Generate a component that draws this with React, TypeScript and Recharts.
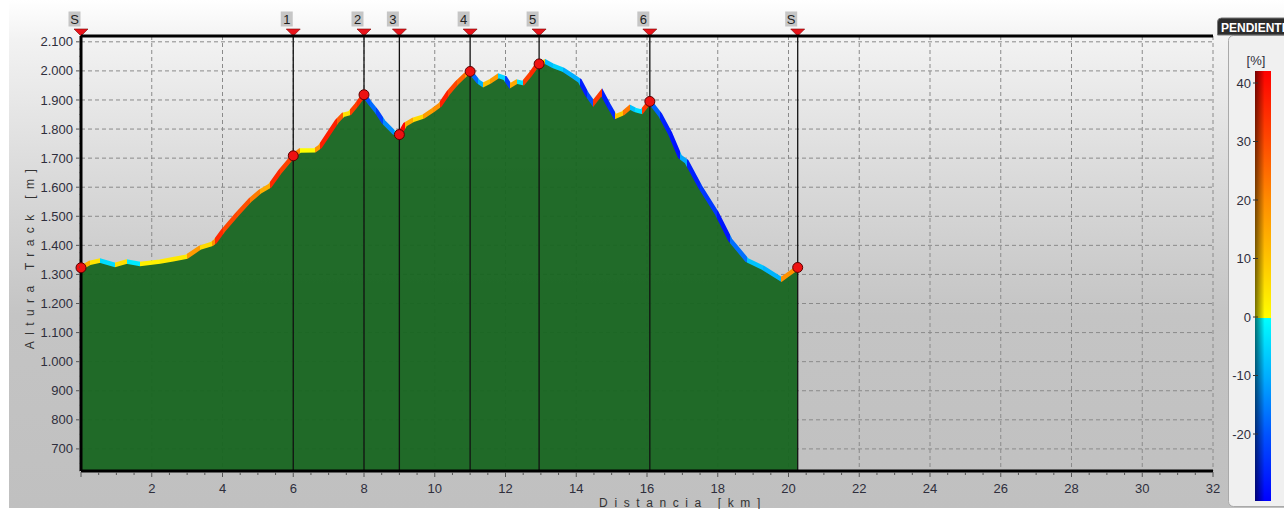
import React from 'react';
import {
  ComposedChart,
  Area,
  Line,
  XAxis,
  YAxis,
  CartesianGrid,
  ReferenceLine,
  ReferenceDot,
} from 'recharts';

// ---------- data ----------
const distanceKm = [
  0, 0.25, 0.54, 0.96, 1.29, 1.67, 2.23, 2.6, 2.99, 3.36, 3.7, 3.79, 4.01, 4.4, 4.78, 5.06, 5.34, 5.63,
  6.0, 6.19, 6.61, 6.76, 7.23, 7.41, 7.6, 7.79, 8.0, 8.17, 8.35, 8.55, 8.85, 9.0, 9.16, 9.39, 9.68,
  9.96, 10.15, 10.38, 10.62, 10.86, 11.0, 11.23, 11.37, 11.56, 11.8, 11.99, 12.13, 12.32, 12.5, 12.69,
  12.88, 12.95, 13.12, 13.35, 13.63, 13.92, 14.1, 14.3, 14.48, 14.72, 14.91, 15.1, 15.33, 15.52, 15.66,
  15.85, 16.08, 16.37, 16.65, 16.93, 17.12, 17.5, 17.97, 18.35, 18.82, 19.29, 19.8, 20.26,
];
const elevationM = [
  1323, 1340, 1348, 1333, 1344, 1336, 1344, 1352, 1361, 1392, 1405, 1413, 1450, 1505, 1556, 1585, 1605, 1654,
  1708, 1726, 1727, 1740, 1826, 1849, 1855, 1883, 1918, 1889, 1862, 1825, 1788, 1781, 1815, 1832, 1843,
  1866, 1883, 1924, 1958, 1986, 1998, 1963, 1952, 1963, 1983, 1975, 1949, 1963, 1958, 1986,
  2018, 2024, 2032, 2017, 2004, 1981, 1966, 1920, 1889, 1926, 1883, 1843, 1855, 1875, 1866,
  1860, 1895, 1849, 1786, 1705, 1688, 1602, 1511, 1419, 1350, 1322, 1283, 1324,
];

const markerLabels = ['S', '1', '2', '3', '4', '5', '6', 'S'];
const markerKm = [0, 6.0, 8.0, 9.0, 11.0, 12.95, 16.08, 20.26];
const markerEle = [1323, 1708, 1918, 1781, 1998, 2024, 1895, 1324];

const yTicksMajor = [700, 800, 900, 1000, 1100, 1200, 1300, 1400, 1500, 1600, 1700, 1800, 1900, 2000, 2100];
const xTicksMajor = [2, 4, 6, 8, 10, 12, 14, 16, 18, 20, 22, 24, 26, 28, 30, 32];
const legendTicks = [40, 30, 20, 10, 0, -10, -20];

const X_DOMAIN: [number, number] = [0, 32];
const Y_DOMAIN: [number, number] = [624, 2120];

const profile = distanceKm.map((km, i) => ({ km, ele: elevationM[i] }));

const xTicksAll: number[] = [];
for (let v = 0; v <= 32; v += 0.5) xTicksAll.push(v);
const yTicksAll: number[] = [];
for (let v = 625; v <= 2100; v += 25) yTicksAll.push(v);

// ---------- slope colours ----------
const upStops: [number, [number, number, number]][] = [
  [0, [255, 255, 0]],
  [4, [255, 216, 0]],
  [8, [255, 160, 0]],
  [12, [255, 96, 0]],
  [16, [255, 48, 0]],
  [22, [255, 0, 0]],
];
const downStops: [number, [number, number, number]][] = [
  [0, [0, 255, 255]],
  [4, [0, 216, 255]],
  [8, [0, 176, 255]],
  [12, [0, 144, 255]],
  [16, [0, 96, 255]],
  [20, [0, 48, 255]],
  [25, [0, 16, 255]],
];
function interp(stops: [number, [number, number, number]][], v: number) {
  if (v <= stops[0][0]) return stops[0][1];
  for (let i = 1; i < stops.length; i++) {
    if (v <= stops[i][0]) {
      const [a, ca] = stops[i - 1];
      const [b, cb] = stops[i];
      const t = (v - a) / (b - a);
      return ca.map((c, k) => Math.round(c + (cb[k] - c) * t)) as [number, number, number];
    }
  }
  return stops[stops.length - 1][1];
}
function slopeColor(s: number) {
  const c = s >= 0 ? interp(upStops, s) : interp(downStops, -s);
  return `rgb(${c[0]},${c[1]},${c[2]})`;
}
const kmMin = distanceKm[0];
const kmMax = distanceKm[distanceKm.length - 1];
const gradStops: { off: number; color: string }[] = [];
for (let i = 0; i < distanceKm.length - 1; i++) {
  const slope = ((elevationM[i + 1] - elevationM[i]) / ((distanceKm[i + 1] - distanceKm[i]) * 1000)) * 100;
  const col = slopeColor(slope);
  gradStops.push({ off: (distanceKm[i] - kmMin) / (kmMax - kmMin), color: col });
  gradStops.push({ off: (distanceKm[i + 1] - kmMin) / (kmMax - kmMin), color: col });
}

const FONT = '"Liberation Sans", Arial, sans-serif';
const TICK_COLOR = '#2e2e3c';

const fmtThousands = (v: number) => {
  const s = String(v);
  return s.length > 3 ? s.slice(0, s.length - 3) + '.' + s.slice(s.length - 3) : s;
};

const XTick = (props: any) => {
  const { x, y, payload } = props;
  const v = payload.value as number;
  const major = v % 2 === 0;
  return (
    <g>
      <line x1={x} x2={x} y1={y + 1} y2={y + (major ? 6 : 4)} stroke="#555" strokeWidth={1} />
      {major && v !== 0 ? (
        <text x={x} y={y + 22} textAnchor="middle" fill={TICK_COLOR} fontSize={13} fontFamily={FONT}>
          {v}
        </text>
      ) : null}
    </g>
  );
};

const YTick = (props: any) => {
  const { x, y, payload } = props;
  const v = payload.value as number;
  const major = v % 100 === 0;
  const ax = x + 8;
  return (
    <g>
      <line x1={ax - (major ? 5 : 2)} x2={ax - 1} y1={y} y2={y} stroke="#555" strokeWidth={1} />
      {major ? (
        <text x={ax - 8} y={y} dy="0.35em" textAnchor="end" fill={TICK_COLOR} fontSize={13} fontFamily={FONT}>
          {fmtThousands(v)}
        </text>
      ) : null}
    </g>
  );
};

const TopTag = ({ viewBox, text }: any) => {
  if (!viewBox) return null;
  const cx = viewBox.x;
  const top = viewBox.y;
  return (
    <g>
      <rect x={cx - 12.5} y={top - 24.5} width={12} height={15} fill="#c6c6c6" />
      <text x={cx - 6.5} y={top - 12} textAnchor="middle" fontSize={13} fontFamily={FONT} fill="#222">
        {text}
      </text>
      <path d={`M${cx - 7},${top - 7} L${cx + 7},${top - 7} L${cx},${top} Z`} fill="#e8141b" stroke="#7a0000" strokeWidth={0.6} />
    </g>
  );
};

const legendY = (v: number) => 317 - v * 5.85;

export default function App() {
  return (
    <div style={{ position: 'absolute', left: 0, top: 0, width: 1284, height: 509, overflow: 'hidden', background: '#fff' }}>
      <div
        style={{
          position: 'absolute',
          left: 9,
          top: 0,
          width: 1275,
          height: 508,
          background: 'linear-gradient(to bottom, #ffffff 0%, #f2f2f2 8%, #dadada 35%, #c4c4c4 62%, #c0c0c0 100%)',
        }}
      />
      <div style={{ position: 'absolute', left: 9, top: 0 }}>
        <ComposedChart width={1226} height={509} data={profile} margin={{ top: 36, right: 22, bottom: 8, left: 0 }}>
          <defs>
            <linearGradient id="slopeGrad" x1="0" y1="0" x2="1" y2="0">
              {gradStops.map((s, i) => (
                <stop key={i} offset={s.off} stopColor={s.color} />
              ))}
            </linearGradient>
          </defs>
          <CartesianGrid
            stroke="#8a8a8a"
            strokeDasharray="4 3"
            verticalValues={xTicksMajor}
            horizontalValues={yTicksMajor}
          />
          <XAxis
            dataKey="km"
            type="number"
            domain={X_DOMAIN}
            ticks={xTicksAll}
            interval={0}
            height={30}
            tickSize={0}
            tickMargin={0}
            tickLine={false}
            axisLine={{ stroke: '#000', strokeWidth: 3 }}
            tick={<XTick />}
            allowDataOverflow
          />
          <YAxis
            type="number"
            domain={Y_DOMAIN}
            ticks={yTicksAll}
            interval={0}
            width={72}
            tickSize={0}
            tickMargin={8}
            tickLine={false}
            axisLine={{ stroke: '#000', strokeWidth: 3 }}
            tick={<YTick />}
            allowDataOverflow
          />
          <Area
            type="linear"
            dataKey="ele"
            stroke="none"
            fill="#176520"
            fillOpacity={0.95}
            isAnimationActive={false}
            dot={false}
            activeDot={false}
          />
          {markerKm.map((k, i) => (
            <ReferenceLine
              key={'rl' + i}
              x={k}
              stroke="#111"
              strokeWidth={1.3}
              label={(p: any) => <TopTag viewBox={p.viewBox} text={markerLabels[i]} />}
            />
          ))}
          <ReferenceLine y={Y_DOMAIN[1]} stroke="#000" strokeWidth={3} />
          <Line
            type="linear"
            dataKey="ele"
            stroke="url(#slopeGrad)"
            strokeWidth={4.5}
            dot={false}
            activeDot={false}
            isAnimationActive={false}
          />
          {markerKm.map((k, i) => (
            <ReferenceDot key={'rd' + i} x={k} y={markerEle[i]} r={5} fill="#ee1111" stroke="#5a0000" strokeWidth={1} />
          ))}
        </ComposedChart>
      </div>
      {/* axis titles */}
      <svg style={{ position: 'absolute', left: 0, top: 0 }} width={1284} height={509}>
        <text
          x={0}
          y={0}
          transform="translate(34,256) rotate(-90)"
          textAnchor="middle"
          fontSize={12}
          fontFamily={FONT}
          fill="#333"
          letterSpacing={6.4}
        >
          Altura Track [m]
        </text>
        <text x={683} y={507} textAnchor="middle" fontSize={12} fontFamily={FONT} fill="#333" letterSpacing={6.6}>
          Distancia [km]
        </text>
      </svg>
      {/* slope legend */}
      <svg style={{ position: 'absolute', left: 1200, top: 0 }} width={84} height={509}>
        <defs>
          <linearGradient id="legendBar" x1="0" y1="0" x2="0" y2="1">
            <stop offset={0} stopColor="#ff0000" />
            <stop offset={(42 - 30) / 73} stopColor="#ff4a00" />
            <stop offset={(42 - 20) / 73} stopColor="#ff8c00" />
            <stop offset={(42 - 10) / 73} stopColor="#ffc400" />
            <stop offset={42 / 73} stopColor="#ffff00" />
            <stop offset={42 / 73} stopColor="#00ffff" />
            <stop offset={(42 + 10) / 73} stopColor="#00acff" />
            <stop offset={(42 + 20) / 73} stopColor="#0050ff" />
            <stop offset={1} stopColor="#0000ff" />
          </linearGradient>
          <linearGradient id="legendShade" x1="0" y1="0" x2="1" y2="0">
            <stop offset={0} stopColor="#000" stopOpacity={0.55} />
            <stop offset={0.45} stopColor="#000" stopOpacity={0.15} />
            <stop offset={0.6} stopColor="#000" stopOpacity={0} />
            <stop offset={1} stopColor="#000" stopOpacity={0} />
          </linearGradient>
        </defs>
        <rect x={28.5} y={35.5} width={70} height={471} rx={5} fill="#f0f0f0" stroke="#a9a9a9" />
        <path d="M17.5,35 L17.5,22 Q17.5,18 21.5,18 L90,18 L90,35 Z" fill="#2c2c2c" stroke="#777" strokeWidth={1} />
        <text x={21} y={31.5} fontSize={12} fontWeight="bold" fontFamily={FONT} fill="#fff">
          PENDIENTE
        </text>
        <text x={56} y={65} textAnchor="middle" fontSize={13} fontFamily={FONT} fill={TICK_COLOR}>
          [%]
        </text>
        <rect x={55} y={71} width={16} height={430} fill="url(#legendBar)" />
        <rect x={55} y={71} width={16} height={430} fill="url(#legendShade)" />
        {legendTicks.map((v) => (
          <g key={v}>
            <line x1={53} x2={58} y1={legendY(v)} y2={legendY(v)} stroke="#333" strokeWidth={1} />
            <text x={51} y={legendY(v)} dy="0.35em" textAnchor="end" fontSize={13} fontFamily={FONT} fill={TICK_COLOR}>
              {v}
            </text>
          </g>
        ))}
      </svg>
    </div>
  );
}
